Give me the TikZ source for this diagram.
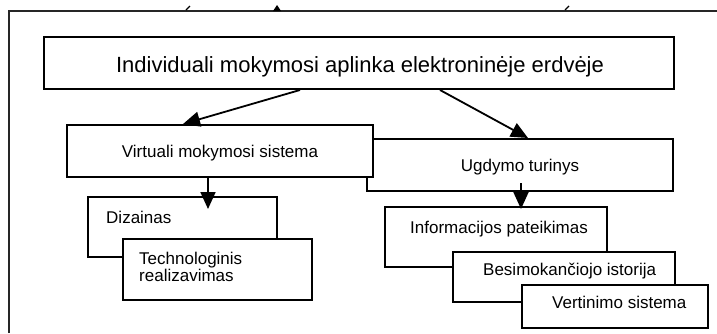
\documentclass[tikz,border=0pt]{standalone}
\usepackage{fontspec}
\setmainfont{Liberation Sans}
\usetikzlibrary{arrows.meta,positioning,calc}

\begin{document}
\begin{tikzpicture}[
    x=1pt, y=-1pt,
    box/.style={rectangle, draw, fill=white, line width=2pt, inner sep=0pt},
    txt/.style={font=\fontsize{17}{16.7}\selectfont, inner sep=0pt, anchor=base west, align=left},
    ttl/.style={font=\fontsize{22}{24}\selectfont, inner sep=0pt, anchor=base},
    mid/.style={font=\fontsize{17}{16.7}\selectfont, inner sep=0pt, anchor=base},
    flow/.style={-{Triangle[length=17pt,width=15pt]}, line width=1.8pt},
    frame/.style={line width=2pt, black!85},
]
\useasboundingbox (0,0) rectangle (717,333);

% ---------- outer frame ----------
\draw[frame] (9,333) -- (9,11) -- (717,11);
\draw[line width=1.2pt] (186,10) -- (190,6);
\fill (273,11) -- (277,5) -- (281,11) -- cycle;
\draw[line width=1.2pt] (565,10) -- (569,6);

% ---------- root ----------
\node[box, minimum width=630pt, minimum height=52pt] (root) at (359,63) {};
\node[ttl] (root-t) at (360,72) {Individuali mokymosi aplinka elektroninėje erdvėje};

% ---------- second level ----------
\node[box, minimum width=306pt, minimum height=52pt] (ugd) at (520,165) {};
\node[mid] (ugd-t) at (520,171) {Ugdymo turinys};
\node[box, minimum width=306pt, minimum height=52pt] (virt) at (220,151) {};
\node[mid] (virt-t) at (220,157) {Virtuali mokymosi sistema};

% ---------- left stack ----------
\node[box, minimum width=189pt, minimum height=60pt] (diz) at (182.5,227) {};
\node[txt] (diz-t) at (106,223) {Dizainas};
\node[box, minimum width=189pt, minimum height=61pt] (tech) at (217.5,269.5) {};
\node[txt] (tech-t) at (139,281) {Technologinis\\realizavimas};

% ---------- right stack ----------
\node[box, minimum width=222pt, minimum height=60pt] (info) at (496,237) {};
\node[txt] (info-t) at (410,233) {Informacijos pateikimas};
\node[box, minimum width=222pt, minimum height=50pt] (besi) at (564,277) {};
\node[txt] (besi-t) at (483,275) {Besimokančiojo istorija};
\node[box, minimum width=186pt, minimum height=43pt] (vert) at (615,306.5) {};
\node[txt] (vert-t) at (552,308) {Vertinimo sistema};

% ---------- arrows ----------
\draw[flow] ([xshift=-59pt]root.south) -- ([xshift=-37pt]virt.north);
\draw[flow] ([xshift=81pt]root.south) -- ([xshift=8pt]ugd.north);
\draw[flow] ([xshift=-12pt]virt.south) -- ([xshift=25.5pt,yshift=-13pt]diz.north);
\draw[flow] ([xshift=1pt,yshift=9pt]ugd.south) -- ([xshift=25pt,yshift=-3pt]info.north);

\end{tikzpicture}
\end{document}
